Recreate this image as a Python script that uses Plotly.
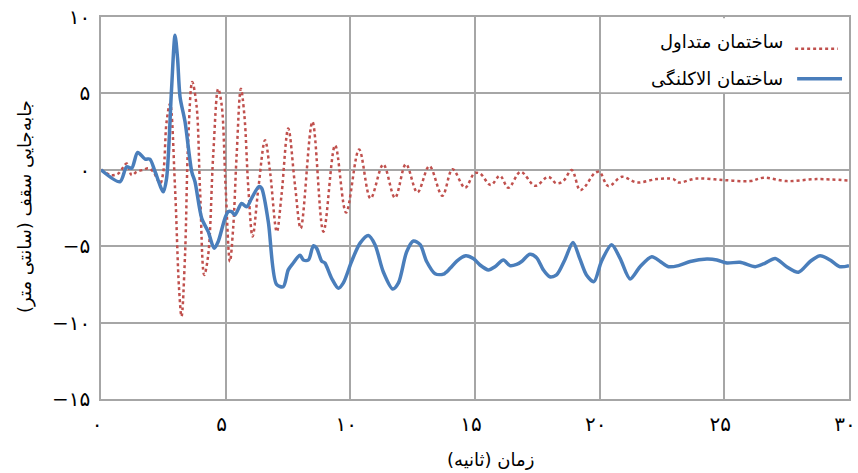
import plotly.graph_objects as go

# ---- data ----
t_conv = [0, 0.43, 0.7, 1.03, 1.23, 1.43, 1.7, 1.9, 2.1, 2.37, 2.5, 2.63, 2.77, 2.97, 3.13, 3.23,
          3.37, 3.5, 3.66, 3.83, 3.97, 4.14, 4.3, 4.5, 4.7, 4.84, 5.0, 5.17, 5.3, 5.44, 5.61, 5.75,
          5.91, 6.08, 6.31, 6.58, 6.78, 7.05, 7.24, 7.51, 7.78, 8.01, 8.48, 8.92, 9.39, 9.83, 10.35,
          10.81, 11.32, 11.79, 12.23, 12.69, 13.17, 13.69, 14.1, 14.6, 14.97, 15.2, 15.63, 16.0,
          16.34, 16.83, 17.41, 17.94, 18.27, 18.54, 18.88, 19.21, 19.41, 19.81, 20.0, 20.35, 20.89,
          21.49, 22.29, 22.96, 23.16, 23.89, 24.96, 26.03, 26.57, 27.5, 28.7, 30]
v_conv = [0, -0.35, -0.24, 0.41, -0.35, -0.13, 0, 0.1, -0.13, -0.89, -0.13, 3.14, 4.33, -1.22, -7.75,
          -9.6, -5.58, 2.05, 5.75, 4.23, -1.22, -6.88, -5.58, 0.96, 5.3, 4.23, -1.22, -6.0, -3.83,
          0.96, 5.3, 3.57, -1.22, -4.37, -1.22, 1.94, -0.13, -4.05, -1.65, 2.7, -1.0, -3.83, 3.14,
          -4.05, 1.6, -2.8, 1.33, -1.87, 0.35, -1.83, 0.37, -1.48, 0.24, -1.7, 0.04, -1.18, -0.24,
          -0.24, -1.0, -0.39, -1.18, -0.13, -1.05, -0.46, -0.89, -0.74, -0.02, -1.33, -1.1, -0.2,
          -0.15, -1.07, -0.46, -0.83, -0.61, -0.61, -0.83, -0.57, -0.67, -0.74, -0.52, -0.74, -0.61,
          -0.7]

t_iso = [0, 0.76, 1.03, 1.23, 1.47, 1.77, 1.96, 2.17, 2.5, 2.63, 2.83, 2.97, 3.07, 3.17, 3.37, 3.64,
         3.77, 4.04, 4.3, 4.54, 4.7, 4.97, 5.1, 5.24, 5.37, 5.64, 5.84, 6.04, 6.33, 6.44, 6.71, 7.04,
         7.31, 7.51, 7.71, 7.98, 8.12, 8.32, 8.52, 8.65, 8.85, 8.98, 9.25, 9.52, 9.72, 10.05, 10.39,
         10.72, 10.99, 11.32, 11.7, 11.93, 12.26, 12.53, 12.8, 13.06, 13.4, 13.73, 14.0, 14.27,
         14.63, 14.93, 15.2, 15.54, 15.8, 16.14, 16.4, 16.67, 16.87, 17.2, 17.47, 17.74, 18.0,
         18.27, 18.6, 18.93, 19.2, 19.47, 19.77, 20.07, 20.48, 20.82, 21.22, 21.62, 22.09, 22.43,
         22.76, 23.16, 23.63, 24.3, 24.7, 25.1, 25.63, 26.24, 26.64, 27.04, 27.5, 27.97, 28.44,
         28.84, 29.24, 29.64, 30.0]
v_iso = [0, -0.78, 0.2, 0.1, 1.13, 0.7, 0.7, -0.13, -1.44, -0.57, 5.3, 8.8, 7.3, 4.77, 3.14, -0.13,
         -0.78, -3.18, -4.05, -5.14, -4.7, -3.18, -2.74, -2.74, -2.96, -2.2, -2.42, -1.87, -1.1,
         -1.2, -3.4, -7.5, -7.65, -6.55, -6.1, -5.6, -5.9, -5.9, -4.97, -5.14, -5.97, -6.1, -7.1,
         -7.75, -7.4, -6.0, -4.8, -4.3, -4.9, -6.67, -7.8, -7.4, -5.36, -4.66, -4.9, -6.0, -6.8,
         -6.83, -6.45, -5.97, -5.62, -5.8, -6.23, -6.55, -6.34, -5.9, -6.27, -6.19, -6.0, -5.53,
         -5.75, -6.55, -7.0, -6.88, -5.9, -4.75, -5.8, -6.88, -7.32, -6.0, -4.9, -5.8, -7.14, -6.34,
         -5.69, -6.0, -6.34, -6.27, -6.0, -5.84, -5.9, -6.1, -6.05, -6.34, -6.1, -5.8, -6.34, -6.7,
         -6.0, -5.62, -5.9, -6.34, -6.27]

x_ticks = [0, 5, 10, 15, 20, 25, 30]
x_ticktext = ["۰", "۵", "۱۰", "۱۵", "۲۰", "۲۵", "۳۰"]
y_ticks = [-15, -10, -5, 0, 5, 10]
y_ticktext = ["−۱۵", "−۱۰", "−۵", "۰", "۵", "۱۰"]

name_conv = "ساختمان متداول"
name_iso = "ساختمان الاکلنگی"
x_title = "زمان (ثانیه)\u200f"
y_title = "جابه\u200cجایی سقف (سانتی متر)\u200f"

RED = "#C0504D"
BLUE = "#4A7EBB"
GRID = "#A6A6A6"
FONT = "DejaVu Sans"

W, H = 858, 473
ML, MR, MT, MB = 101, 9, 17, 74
pw, ph = W - ML - MR, H - MT - MB


def px_to_paper(px, py):
    return (px - ML) / pw, (H - MB - py) / ph


fig = go.Figure()
fig.add_trace(go.Scatter(x=t_conv, y=v_conv, mode="lines", name=name_conv,
                         line=dict(color=RED, width=2.5, dash="dot", shape="spline", smoothing=1),
                         showlegend=False, hoverinfo="skip"))
fig.add_trace(go.Scatter(x=t_iso, y=v_iso, mode="lines", name=name_iso,
                         line=dict(color=BLUE, width=3.5, shape="spline", smoothing=0.8),
                         showlegend=False, hoverinfo="skip"))

# legend box (covers gridline like the reference) and custom RTL legend
fig.add_shape(type="rect", xref="x", yref="y", x0=20.06, x1=29.94, y0=5.08, y1=9.92,
              fillcolor="white", line=dict(width=0), layer="between")
fig.add_shape(type="line", xref="x", yref="y", x0=27.84, x1=29.55, y0=7.92, y1=7.92,
              line=dict(color=RED, width=2.5, dash="dot"))
fig.add_shape(type="line", xref="x", yref="y", x0=27.92, x1=29.72, y0=5.96, y1=5.96,
              line=dict(color=BLUE, width=3.5))
fig.add_annotation(x=27.44, y=8.38, xref="x", yref="y", text=name_conv, showarrow=False,
                   xanchor="right", yanchor="middle", font=dict(family=FONT, size=18, color="black"))
fig.add_annotation(x=27.44, y=6.0, xref="x", yref="y", text=name_iso, showarrow=False,
                   xanchor="right", yanchor="middle", font=dict(family=FONT, size=18, color="black"))

# axis titles
ax, ay = px_to_paper(490, 460)
fig.add_annotation(x=ax, y=ay, xref="paper", yref="paper", text=x_title, showarrow=False,
                   xanchor="center", yanchor="middle",
                   font=dict(family=FONT, size=18, color="black"))
bx, by = px_to_paper(25, 207)
fig.add_annotation(x=bx, y=by, xref="paper", yref="paper", text=y_title, showarrow=False,
                   xanchor="center", yanchor="middle", textangle=-90,
                   font=dict(family=FONT, size=18, color="black"))

fig.update_layout(
    width=W, height=H,
    margin=dict(l=ML, r=MR, t=MT, b=MB, autoexpand=False),
    paper_bgcolor="white", plot_bgcolor="white",
    font=dict(family=FONT, size=20, color="black"),
    xaxis=dict(range=[0, 30], tickvals=x_ticks, ticktext=x_ticktext, showgrid=True,
               gridcolor=GRID, gridwidth=1.5, zeroline=False, showline=True, linecolor=GRID,
               linewidth=1.5, mirror=True, ticks="", ticklabelstandoff=6, automargin=False,
               ticklabeloverflow="allow", ticklabelshift=-4, tickfont=dict(size=20)),
    yaxis=dict(range=[-15, 10], tickvals=y_ticks, ticktext=y_ticktext, showgrid=True,
               gridcolor=GRID, gridwidth=1.5, zeroline=False, showline=True, linecolor=GRID,
               linewidth=1.5, mirror=True, ticks="", ticklabelstandoff=5, automargin=False,
               ticklabeloverflow="allow", tickfont=dict(size=20)),
)

fig.write_html("out.html", config={"displayModeBar": False},
               post_script="document.body.style.margin='0';")
